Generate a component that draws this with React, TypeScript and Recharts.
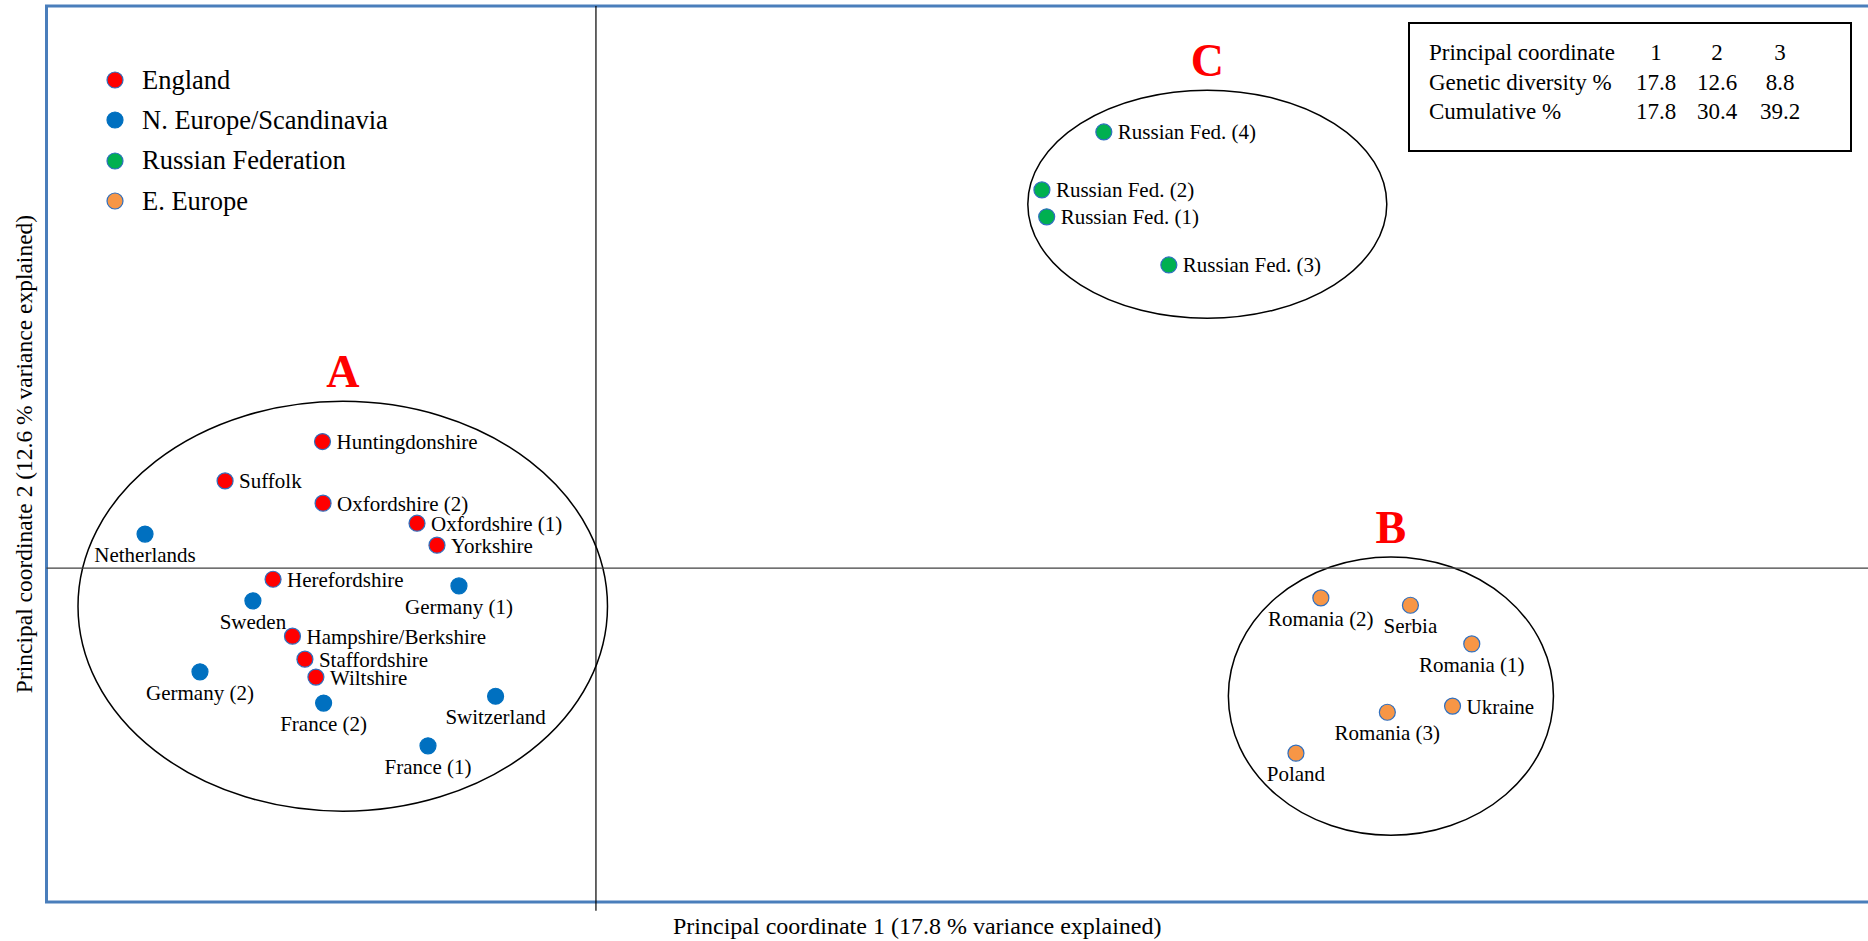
import {
  ScatterChart,
  Scatter,
  XAxis,
  YAxis,
  ReferenceArea,
  ReferenceLine,
  Legend,
} from "recharts";

type Pop = { name: string; x: number; y: number };

// PCoA scores (coordinate 1, coordinate 2) per population
const england: Pop[] = [
  { name: "Huntingdonshire", x: -0.1493, y: 0.0721 },
  { name: "Suffolk", x: -0.2025, y: 0.0497 },
  { name: "Oxfordshire (2)", x: -0.149, y: 0.037 },
  { name: "Oxfordshire (1)", x: -0.0977, y: 0.0256 },
  { name: "Yorkshire", x: -0.0868, y: 0.0131 },
  { name: "Herefordshire", x: -0.1763, y: -0.0063 },
  { name: "Hampshire/Berkshire", x: -0.1657, y: -0.0387 },
  { name: "Staffordshire", x: -0.1589, y: -0.0518 },
  { name: "Wiltshire", x: -0.1529, y: -0.062 },
];

const northEurope: Pop[] = [
  { name: "Netherlands", x: -0.2462, y: 0.0194 },
  { name: "Germany (1)", x: -0.0748, y: -0.0101 },
  { name: "Sweden", x: -0.1873, y: -0.0186 },
  { name: "Germany (2)", x: -0.2162, y: -0.059 },
  { name: "France (2)", x: -0.1487, y: -0.0768 },
  { name: "Switzerland", x: -0.0548, y: -0.0729 },
  { name: "France (1)", x: -0.0917, y: -0.1011 },
];

const russia: Pop[] = [
  { name: "Russian Fed. (4)", x: 0.2773, y: 0.2483 },
  { name: "Russian Fed. (2)", x: 0.2435, y: 0.2153 },
  { name: "Russian Fed. (1)", x: 0.2461, y: 0.2 },
  { name: "Russian Fed. (3)", x: 0.3128, y: 0.1726 },
];

const eastEurope: Pop[] = [
  { name: "Romania (2)", x: 0.3958, y: -0.0169 },
  { name: "Serbia", x: 0.4447, y: -0.0211 },
  { name: "Romania (1)", x: 0.4782, y: -0.0431 },
  { name: "Ukraine", x: 0.4677, y: -0.0785 },
  { name: "Romania (3)", x: 0.4321, y: -0.082 },
  { name: "Poland", x: 0.3822, y: -0.1053 },
];

// bounding boxes of the three cluster ellipses, in score units
const clusterIds = ["A", "B", "C"];
const clusterX1 = [-0.2828, 0.3453, 0.2358];
const clusterX2 = [0.0063, 0.5228, 0.4318];
const clusterY1 = [-0.1383, -0.152, 0.1423];
const clusterY2 = [0.095, 0.0064, 0.2721];

// variance table
const pcoNumbers = ["1", "2", "3"];
const geneticDiversity = ["17.8", "12.6", "8.8"];
const cumulative = ["17.8", "30.4", "39.2"];

const xTitle = "Principal coordinate 1 (17.8 % variance explained)";
const yTitle = "Principal coordinate 2 (12.6 % variance explained)";

// populations whose name sits under the dot instead of beside it
const labelBelow = new Set([
  "Netherlands",
  "Germany (1)",
  "Sweden",
  "Germany (2)",
  "France (2)",
  "Switzerland",
  "France (1)",
  "Romania (2)",
  "Serbia",
  "Romania (1)",
  "Romania (3)",
  "Poland",
]);

const serif = "'Liberation Serif', 'Times New Roman', serif";
const edge = "#2f6fbf";

const series = [
  { name: "England", data: england, fill: "#ff0000", stroke: edge },
  { name: "N. Europe/Scandinavia", data: northEurope, fill: "#0070c0", stroke: "#0070c0" },
  { name: "Russian Federation", data: russia, fill: "#00b050", stroke: edge },
  { name: "E. Europe", data: eastEurope, fill: "#f79646", stroke: edge },
];

const makeDot = (stroke: string) => (props: any) => {
  const { cx, cy, fill, payload } = props;
  const below = labelBelow.has(payload.name);
  return (
    <g>
      <circle cx={cx} cy={cy} r={8} fill={fill} stroke={stroke} strokeWidth={1.2} />
      <text
        x={below ? cx : cx + 14}
        y={below ? cy + 28 : cy + 7.5}
        textAnchor={below ? "middle" : "start"}
        fontSize={21}
        fontFamily={serif}
        fill="#000"
      >
        {payload.name}
      </text>
    </g>
  );
};

const ellipse = (props: any) => {
  const { x, y, width, height } = props;
  return (
    <ellipse
      cx={x + width / 2}
      cy={y + height / 2}
      rx={Math.abs(width) / 2}
      ry={Math.abs(height) / 2}
      fill="none"
      stroke="#000"
      strokeWidth={1.5}
    />
  );
};

const renderLegend = () => (
  <div style={{ fontFamily: serif, fontSize: 26.5, color: "#000" }}>
    {series.map((s) => (
      <div key={s.name} style={{ display: "flex", alignItems: "center", height: 40.3 }}>
        <svg width={20} height={20} style={{ marginRight: 17 }}>
          <circle cx={10} cy={10} r={8} fill={s.fill} stroke={s.stroke} strokeWidth={1.2} />
        </svg>
        <span>{s.name}</span>
      </div>
    ))}
  </div>
);

function VarianceTable() {
  const rows = [
    { label: "Principal coordinate", cells: pcoNumbers },
    { label: "Genetic diversity %", cells: geneticDiversity },
    { label: "Cumulative %", cells: cumulative },
  ];
  const cols = [248, 309, 372];
  return (
    <svg
      width={446}
      height={132}
      style={{ position: "absolute", left: 1408, top: 22 }}
      fontFamily={serif}
      fontSize={23}
    >
      <rect x={1} y={1} width={442} height={128} fill="#fff" stroke="#000" strokeWidth={2} />
      {rows.map((r, i) => (
        <g key={r.label}>
          <text x={21} y={38 + i * 29.5} fill="#000">
            {r.label}
          </text>
          {r.cells.map((c, j) => (
            <text key={j} x={cols[j]} y={38 + i * 29.5} textAnchor="middle" fill="#000">
              {c}
            </text>
          ))}
        </g>
      ))}
    </svg>
  );
}

export default function App() {
  return (
    <div
      style={{
        position: "fixed",
        left: 0,
        top: 0,
        width: 1868,
        height: 941,
        overflow: "hidden",
        background: "#fff",
      }}
    >
      <ScatterChart width={1880} height={941} margin={{ top: 6, right: 2, bottom: 0, left: 0 }}>
        <XAxis
          type="number"
          dataKey="x"
          domain={[-0.3, 0.7]}
          allowDataOverflow
          height={39}
          tick={false}
          tickLine={false}
          axisLine={false}
          label={{
            value: xTitle,
            position: "center",
            dx: -45,
            dy: 4,
            fontSize: 24,
            fontFamily: serif,
            fill: "#000",
          }}
        />
        <YAxis
          type="number"
          dataKey="y"
          domain={[-0.19, 0.32]}
          allowDataOverflow
          width={46.5}
          tick={false}
          tickLine={false}
          axisLine={false}
          label={{
            value: yTitle,
            angle: -90,
            position: "center",
            fontSize: 23.5,
            fontFamily: serif,
            fill: "#000",
          }}
        />
        <ReferenceArea
          x1={-0.3}
          x2={0.7}
          y1={-0.19}
          y2={0.32}
          fill="none"
          fillOpacity={0}
          stroke="#4a7ebb"
          strokeWidth={3}
          ifOverflow="visible"
        />
        <ReferenceLine y={0} stroke="#404040" strokeWidth={1.2} />
        <ReferenceLine
          segment={[
            { x: 0, y: 0.32 },
            { x: 0, y: -0.195 },
          ]}
          stroke="#000"
          strokeWidth={1.2}
          ifOverflow="visible"
        />
        {clusterIds.map((id, i) => (
          <ReferenceArea
            key={id}
            x1={clusterX1[i]}
            x2={clusterX2[i]}
            y1={clusterY1[i]}
            y2={clusterY2[i]}
            shape={ellipse}
            ifOverflow="visible"
            label={{
              value: id,
              position: "top",
              offset: 14,
              fill: "#ff0000",
              fontSize: 46,
              fontWeight: 700,
              fontFamily: serif,
            }}
          />
        ))}
        {series.map((s) => (
          <Scatter
            key={s.name}
            name={s.name}
            data={s.data}
            fill={s.fill}
            shape={makeDot(s.stroke)}
            isAnimationActive={false}
          />
        ))}
        <Legend
          layout="vertical"
          align="center"
          verticalAlign="middle"
          wrapperStyle={{ left: 105, top: 60, width: 360 }}
          content={renderLegend}
        />
      </ScatterChart>
      <VarianceTable />
    </div>
  );
}
